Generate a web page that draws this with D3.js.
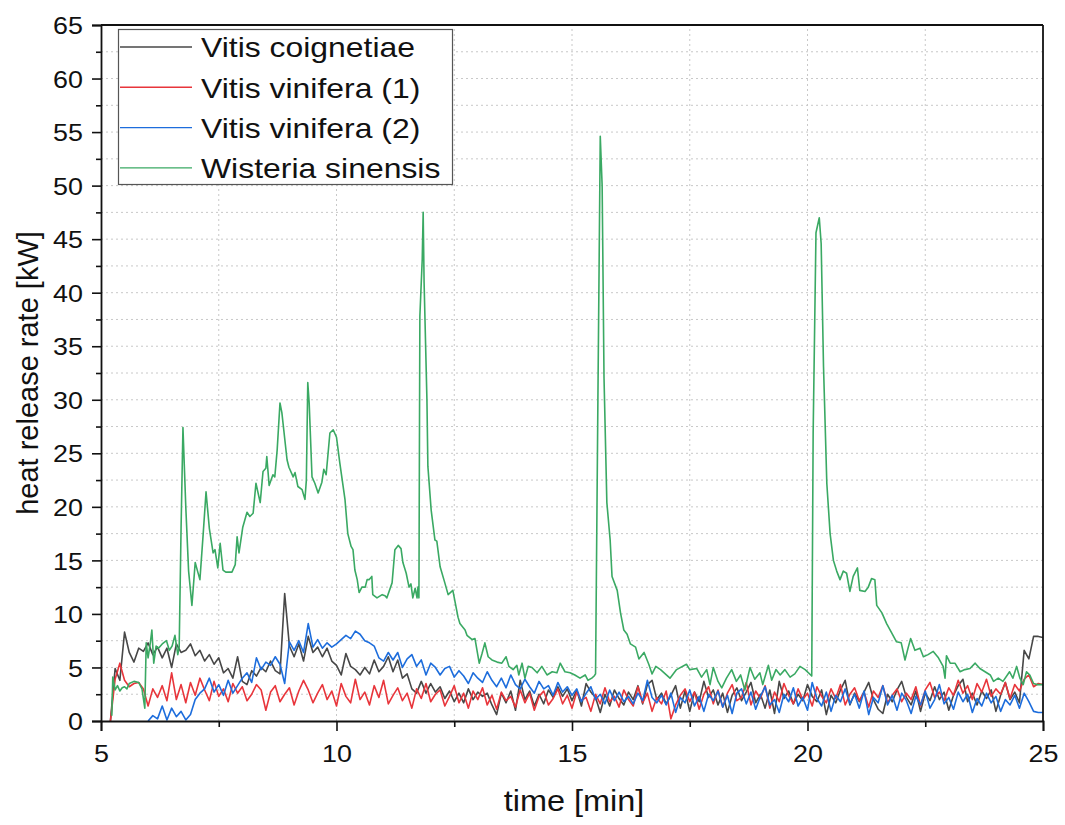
<!DOCTYPE html>
<html>
<head>
<meta charset="utf-8">
<script src="https://cdn.jsdelivr.net/npm/d3@7"></script>
<style>
  body { margin: 0; background: #fff; }
  text { font-family: "Liberation Sans", Arial, sans-serif; fill: #111; }
</style>
</head>
<body>
<div id="graf"></div>
<script>
// sample grid of the three noisy curves: one row per minute, 0.1 min step, starting at 5.0 min
const t0 = 5.0, dt = 0.1

const coignetiae = [
  null, null, 0.0, 4.9, 3.8, 8.3, 6.4, 5.5, 6.8, 6.5,
  7.3, 6.2, 6.9, 5.9, 6.8, 5.0, 7.2, 6.4, 6.6, 7.2,
  6.1, 6.6, 5.6, 6.2, 5.3, 5.9, 4.5, 4.9, 4.0, 6.0,
  3.7, 3.4, 4.7, 4.2, 5.0, 4.6, 5.6, 4.7, 4.4, 11.9,
  7.0, 6.0, 7.2, 5.6, 7.9, 6.4, 6.9, 6.0, 6.8, 5.6,
  5.2, 4.3, 6.3, 5.1, 4.8, 4.3, 5.0, 4.4, 5.7, 4.6,
  5.1, 6.0, 4.6, 5.7, 4.0, 4.4, 3.0, 2.6, 3.7, 2.6,
  3.5, 2.7, 3.2, 2.1, 2.8, 1.8, 2.6, 1.7, 3.0, 2.0,
  2.7, 2.3, 2.6, 1.5, 0.6, 2.6, 1.7, 2.8, 1.0, 3.8,
  2.0, 2.8, 1.4, 2.5, 1.6, 2.9, 2.2, 3.2, 2.3, 3.0,
  1.9, 2.9, 1.4, 3.5, 2.7, 2.2, 0.8, 2.5, 1.4, 2.9,
  2.1, 1.5, 2.7, 2.0, 3.3, 1.6, 3.4, 3.8, 2.0, 2.6,
  1.6, 2.4, 3.3, 1.2, 2.8, 0.9, 2.7, 1.8, 3.7, 2.2,
  2.9, 1.5, 2.6, 0.8, 2.4, 3.1, 1.9, 2.7, 3.6, 1.7,
  2.5, 1.2, 2.9, 0.7, 3.7, 2.1, 2.8, 1.6, 2.5, 1.9,
  3.4, 2.3, 1.8, 2.9, 0.6, 2.4, 1.7, 2.9, 3.8, 1.5,
  2.6, 1.8, 2.7, 3.6, 2.0, 1.1, 0.7, 2.5, 1.8, 2.9,
  3.7, 2.2, 1.5, 2.8, 0.9, 2.6, 1.9, 3.2, 2.0, 2.7,
  1.0, 2.4, 3.3, 3.9, 1.8, 2.6, 1.5, 2.8, 2.1, 2.9,
  0.9, 2.4, 3.6, 2.0, 2.7, 1.7, 6.6, 5.8, 7.9, 7.9,
  7.8
]

const vinifera1 = [
  null, null, 0.0, 3.9, 5.4, 3.8, 3.2, 3.5, 3.6, 3.0,
  1.4, 3.0, 2.2, 3.3, 1.9, 4.5, 2.0, 3.4, 1.7, 3.6,
  2.4, 4.0, 2.9, 1.9, 3.7, 2.3, 3.0, 1.8, 3.5, 2.6,
  3.2, 1.9, 2.5, 3.4, 2.9, 1.0, 2.7, 3.3, 1.8, 2.5,
  3.1, 1.5, 2.8, 3.8, 2.9, 1.7, 2.6, 3.4, 2.0, 2.8,
  1.4, 3.5, 2.3, 1.7, 3.9, 2.0, 2.7, 1.5, 3.3, 2.2,
  3.8, 1.6, 2.4, 3.1, 1.9, 2.6, 1.2, 3.0, 2.1, 3.5,
  1.8, 2.5, 2.9, 1.4, 2.3, 3.3, 1.7, 2.6, 1.2, 2.8,
  2.0, 3.1, 1.5, 2.4, 1.1, 2.7, 1.9, 2.3, 1.3, 2.9,
  1.7, 2.6, 1.0, 2.3, 2.8, 1.5, 2.1, 3.0, 1.6, 2.4,
  1.2, 2.7, 1.9, 2.2, 0.9, 2.5, 1.6, 3.1, 1.8, 2.3,
  1.3, 2.9, 2.0, 1.4, 3.2, 1.7, 2.6, 0.9, 2.2, 1.6,
  2.8, 0.2, 1.5, 2.4, 3.0, 1.8, 2.7, 1.1, 2.5, 3.2,
  1.6, 2.9, 1.3, 2.6, 3.4, 1.9, 2.2, 3.6, 1.5, 2.8,
  2.1, 3.3, 1.2, 2.7, 1.8, 3.5, 2.4, 1.6, 3.0, 2.0,
  2.6, 1.4, 3.2, 2.3, 1.7, 3.0, 2.1, 3.4, 1.5, 2.5,
  3.1, 1.9, 2.7, 1.3, 2.8, 2.2, 3.3, 1.7, 2.4, 3.0,
  1.8, 2.6, 2.0, 3.2, 1.4, 2.9, 3.6, 2.2, 2.7, 1.9,
  3.1, 2.4, 3.8, 2.6, 3.3, 2.0, 3.5, 2.7, 3.9, 2.3,
  3.0, 2.5, 3.6, 2.1, 3.4, 2.8, 3.9, 4.3, 3.2, 3.5,
  3.4
]

const vinifera2 = [
  null, null, null, null, null, null, null, null, null, null,
  0.0, 0.5, 0.2, 1.4, 0.1, 1.2, 0.4, 0.9, 0.1, 0.6,
  2.0, 2.6, 3.0, 4.0, 2.7, 3.4, 2.4, 3.8, 2.6, 3.3,
  4.0, 4.5, 3.6, 5.9, 4.8, 5.5, 5.2, 6.0, 5.3, 3.5,
  7.4, 6.6, 7.5, 6.4, 9.1, 6.9, 7.6, 6.8, 7.3, 6.9,
  7.2, 7.6, 8.0, 7.7, 8.4, 8.1, 7.5, 7.3, 7.0, 5.9,
  5.6, 6.4, 5.7, 6.4, 5.0, 5.8, 6.2, 5.1, 5.7, 4.3,
  5.4, 5.0, 4.3, 4.9, 5.1, 4.1, 4.7, 4.2, 3.5, 4.5,
  4.0, 3.6, 4.6, 3.8, 3.2, 4.0, 3.1, 4.3, 3.4, 3.0,
  3.9, 3.2, 2.6, 3.7, 3.0, 3.3, 2.4, 3.6, 2.7, 3.2,
  2.4, 3.0, 1.8, 2.6, 3.2, 2.0, 2.5, 1.6, 2.9, 1.9,
  2.7, 1.8, 2.3, 1.6, 2.6, 1.9, 3.8, 2.2, 1.7, 2.4,
  1.5, 2.6, 0.8, 2.2, 1.7, 2.9, 1.4, 2.3, 0.9, 2.5,
  1.9, 2.8, 1.3, 2.4, 0.7, 2.6, 3.0, 1.6, 2.7, 1.1,
  2.3, 3.2, 1.5, 2.0, 0.8, 2.5, 1.8, 3.1, 1.4, 2.2,
  1.0, 3.6, 2.1, 1.4, 2.7, 0.9, 2.4, 1.8, 3.0, 1.6,
  2.5, 1.2, 2.8, 0.6, 2.2, 1.7, 3.3, 1.5, 2.4, 1.0,
  2.6, 1.9, 0.7, 2.3, 1.5, 2.8, 1.2, 2.0, 3.4, 1.6,
  2.2, 1.1, 2.7, 1.8, 2.5, 0.8, 2.1, 1.4, 2.6, 1.7,
  2.3, 0.9, 2.0, 1.5, 2.4, 1.2, 2.6, 1.8, 0.9, 0.8,
  0.8
]

// Wisteria sinensis, read point by point (time in min, HRR in kW)
const wisteriaTime = [
  5.23, 5.25, 5.3, 5.35, 5.4, 5.45, 5.5, 5.55, 5.6, 5.7, 5.8, 5.87, 5.93, 5.96, 6.0, 6.05, 6.08, 6.12, 6.17, 6.22,
  6.3, 6.39, 6.45, 6.51, 6.57, 6.63, 6.66, 6.7, 6.74, 6.8, 6.86, 6.93, 7.0, 7.05, 7.1, 7.17, 7.23, 7.3, 7.38, 7.42,
  7.48, 7.53, 7.59, 7.65, 7.78, 7.85, 7.89, 7.93, 8.01, 8.1, 8.16, 8.23, 8.29, 8.38, 8.44, 8.5, 8.52, 8.57, 8.65, 8.69,
  8.74, 8.8, 8.84, 8.95, 8.99, 9.08, 9.12, 9.18, 9.27, 9.33, 9.36, 9.39, 9.42, 9.48, 9.54, 9.61, 9.69, 9.73, 9.78, 9.86,
  9.93, 10.0, 10.07, 10.18, 10.24, 10.31, 10.35, 10.39, 10.44, 10.48, 10.54, 10.61, 10.65, 10.69, 10.75, 10.77, 10.86, 10.97, 11.03, 11.07,
  11.18, 11.24, 11.31, 11.37, 11.41, 11.48, 11.54, 11.58, 11.62, 11.67, 11.71, 11.73, 11.75, 11.77, 11.82, 11.84, 11.86, 11.92, 11.94, 12.01,
  12.09, 12.13, 12.2, 12.3, 12.37, 12.47, 12.58, 12.62, 12.73, 12.77, 12.88, 12.94, 13.03, 13.09, 13.15, 13.22, 13.3, 13.41, 13.51, 13.6,
  13.66, 13.75, 13.83, 13.87, 13.94, 14.0, 14.07, 14.15, 14.26, 14.36, 14.47, 14.58, 14.68, 14.75, 14.85, 14.96, 15.06, 15.17, 15.28, 15.34,
  15.42, 15.47, 15.5, 15.55, 15.6, 15.64, 15.68, 15.74, 15.81, 15.85, 15.96, 16.03, 16.1, 16.17, 16.24, 16.35, 16.42, 16.53, 16.63, 16.7,
  16.78, 16.88, 17.08, 17.22, 17.43, 17.5, 17.65, 17.75, 17.86, 17.93, 18.0, 18.1, 18.18, 18.28, 18.39, 18.49, 18.58, 18.67, 18.78, 18.88,
  18.99, 19.05, 19.17, 19.24, 19.33, 19.42, 19.52, 19.63, 19.73, 19.84, 19.95, 20.09, 20.12, 20.18, 20.25, 20.29, 20.34, 20.41, 20.48, 20.55,
  20.62, 20.69, 20.76, 20.83, 20.9, 20.97, 21.06, 21.11, 21.22, 21.29, 21.36, 21.43, 21.47, 21.58, 21.68, 21.79, 21.89, 21.99, 22.07, 22.14,
  22.19, 22.28, 22.39, 22.46, 22.56, 22.67, 22.78, 22.88, 22.92, 22.95, 23.03, 23.13, 23.24, 23.34, 23.45, 23.56, 23.66, 23.77, 23.88, 23.95,
  24.05, 24.15, 24.29, 24.36, 24.44, 24.51, 24.58, 24.65, 24.72, 24.8, 24.87, 25.0
]
const wisteriaHRR = [
  0.5, 4.1, 2.9, 3.3, 2.8, 3.1, 3.2, 3.0, 3.5, 3.7, 3.6, 3.0, 1.2, 7.3, 5.9, 7.4, 8.5, 5.4, 7.0, 6.8,
  7.2, 7.5, 6.6, 7.0, 8.0, 6.2, 6.9, 18.0, 27.4, 20.0, 14.0, 10.8, 14.8, 14.0, 13.2, 17.5, 21.4, 18.0, 15.7, 16.0,
  14.3, 16.6, 14.1, 13.9, 13.9, 14.6, 17.2, 15.7, 18.1, 19.5, 19.1, 19.4, 22.2, 20.4, 23.3, 23.6, 24.7, 22.0, 23.0, 22.8,
  25.3, 29.7, 28.8, 24.4, 23.7, 22.8, 23.2, 21.9, 21.6, 20.7, 22.5, 31.6, 29.7, 22.8, 22.2, 21.3, 22.3, 23.5, 23.0, 26.9,
  27.2, 26.5, 24.1, 20.7, 17.5, 16.3, 16.0, 14.1, 13.2, 12.0, 12.5, 12.5, 13.2, 13.2, 13.5, 11.8, 11.5, 11.8, 11.7, 11.5,
  12.9, 16.0, 16.4, 16.1, 14.8, 13.8, 12.5, 12.8, 11.5, 12.4, 11.5, 12.5, 11.5, 37.8, 43.1, 47.5, 40.9, 30.0, 23.8, 19.7,
  16.9, 16.8, 14.4, 12.9, 11.8, 12.2, 9.7, 9.1, 8.5, 8.0, 7.6, 7.7, 5.4, 6.3, 7.3, 6.0, 5.7, 5.5, 5.4, 6.0,
  5.1, 4.8, 5.2, 4.3, 5.4, 4.0, 5.1, 5.0, 4.5, 5.1, 4.3, 4.6, 4.5, 5.4, 4.6, 4.5, 4.3, 4.0, 4.3, 3.8,
  4.0, 4.2, 4.4, 30.0, 54.6, 50.0, 32.0, 20.4, 16.9, 13.5, 12.2, 10.1, 8.5, 8.1, 7.2, 6.9, 5.8, 6.4, 5.3, 4.4,
  5.1, 4.8, 4.0, 4.8, 5.3, 4.8, 4.9, 4.1, 4.8, 3.4, 5.0, 3.7, 3.1, 4.0, 4.8, 3.7, 4.3, 2.9, 5.0, 3.9,
  4.5, 3.4, 5.2, 3.8, 4.8, 4.3, 4.8, 4.1, 4.4, 5.1, 4.8, 4.2, 26.9, 45.6, 47.0, 44.6, 33.1, 22.2, 17.5, 15.0,
  14.0, 13.2, 14.0, 13.8, 12.1, 13.5, 14.3, 12.2, 12.1, 12.5, 13.3, 13.2, 10.8, 10.1, 9.1, 8.2, 7.4, 7.3, 5.7, 6.9,
  7.7, 6.6, 6.8, 6.0, 6.2, 6.5, 5.9, 5.1, 4.0, 6.1, 5.4, 5.4, 4.6, 4.8, 4.9, 5.4, 4.9, 4.6, 4.3, 3.7,
  4.0, 3.7, 4.6, 4.0, 5.1, 4.0, 3.4, 4.6, 4.3, 3.5, 3.4, 3.4
]

const seriesNames = ["Vitis coignetiae", "Vitis vinifera (1)", "Vitis vinifera (2)", "Wisteria sinensis"]
const seriesColors = ["#474747", "#e8353b", "#1d6ddc", "#3aa963"]
const yTicks = d3.range(0, 66, 5)
const xTicks = [5, 10, 15, 20, 25]

function gridSeries(values){
  return values.map((v, i) => ({ t: t0 + i * dt, v: v }))
}

const series = [
  gridSeries(coignetiae),
  gridSeries(vinifera1),
  gridSeries(vinifera2),
  wisteriaTime.map((t, i) => ({ t: t, v: wisteriaHRR[i] }))
]

const W = 1065, H = 825
const x = d3.scaleLinear().domain([5, 25]).range([101, 1043])
const y = d3.scaleLinear().domain([0, 65]).range([721, 25])
const stretch = 1.12   // the original figure is a bit wider than tall in its text

const svg = d3.select('#graf')
  .append('svg')
  .attr('width', W)
  .attr('height', H)

// dotted grid every 2.5
const grid = svg.append('g')
grid.selectAll('line.gy')
  .data(d3.range(2.5, 65, 2.5))
  .enter().append('line')
  .attr('x1', x(5)).attr('x2', x(25))
  .attr('y1', d => y(d)).attr('y2', d => y(d))
  .attr('stroke', '#c8c8c8').attr('stroke-width', 1)
  .attr('stroke-dasharray', '2,3')
grid.selectAll('line.gx')
  .data(d3.range(7.5, 25, 2.5))
  .enter().append('line')
  .attr('y1', y(0)).attr('y2', y(65))
  .attr('x1', d => x(d)).attr('x2', d => x(d))
  .attr('stroke', '#c8c8c8').attr('stroke-width', 1)
  .attr('stroke-dasharray', '2,3')

// curves
svg.append('clipPath').attr('id', 'clip')
  .append('rect')
  .attr('x', x(5)).attr('y', y(65))
  .attr('width', x(25) - x(5)).attr('height', y(0) - y(65))

const line = d3.line()
  .defined(d => d.v !== null)
  .x(d => x(d.t))
  .y(d => y(d.v))

svg.append('g').attr('clip-path', 'url(#clip)')
  .selectAll('path')
  .data(series)
  .enter().append('path')
  .attr('d', line)
  .attr('fill', 'none')
  .attr('stroke', (d, i) => seriesColors[i])
  .attr('stroke-width', 1.6)
  .attr('stroke-linejoin', 'round')

// frame top / right
svg.append('line')
  .attr('x1', x(5)).attr('x2', x(25)).attr('y1', y(65)).attr('y2', y(65))
  .attr('stroke', '#111').attr('stroke-width', 1.8)
svg.append('line')
  .attr('x1', x(25)).attr('x2', x(25)).attr('y1', y(0)).attr('y2', y(65))
  .attr('stroke', '#111').attr('stroke-width', 1.8)

// axes
const yAxis = svg.append('g')
  .attr('transform', 'translate(' + x(5) + ',0)')
  .call(d3.axisLeft(y).tickValues(yTicks).tickSize(9).tickPadding(7).tickFormat(d3.format('d')))
svg.append('g')
  .attr('transform', 'translate(' + x(5) + ',0)')
  .call(d3.axisLeft(y).tickValues(d3.range(2.5, 65, 5)).tickSize(5).tickFormat(''))
  .call(g => g.select('.domain').remove())

const xAxis = svg.append('g')
  .attr('transform', 'translate(0,' + y(0) + ')')
  .call(d3.axisBottom(x).tickValues(xTicks).tickSize(10).tickPadding(14).tickFormat(d3.format('d')))
svg.append('g')
  .attr('transform', 'translate(0,' + y(0) + ')')
  .call(d3.axisBottom(x).tickValues(d3.range(7.5, 25, 5)).tickSize(6).tickFormat(''))
  .call(g => g.select('.domain').remove())

svg.selectAll('.domain').attr('stroke', '#111').attr('stroke-width', 1.8)
svg.selectAll('.tick line').attr('stroke', '#111').attr('stroke-width', 1.6)

yAxis.selectAll('.tick text')
  .attr('font-size', 24)
  .attr('dy', '0.36em')
  .attr('x', 0)
  .attr('transform', 'translate(-18,0) scale(' + stretch + ',1)')
xAxis.selectAll('.tick text')
  .attr('font-size', 24)
  .attr('transform', 'scale(' + stretch + ',1)')

// axis titles
svg.append('text')
  .attr('transform', 'translate(' + (x(15) + 2) + ',811) scale(' + stretch + ',1)')
  .attr('text-anchor', 'middle')
  .attr('font-size', 29)
  .text('time [min]')
svg.append('text')
  .attr('transform', 'translate(38,' + y(32.5) + ') rotate(-90)')
  .attr('text-anchor', 'middle')
  .attr('font-size', 29)
  .text('heat release rate [kW]')

// legend
const legend = svg.append('g')
legend.append('rect')
  .attr('x', 118.5).attr('y', 29.5)
  .attr('width', 334).attr('height', 155)
  .attr('fill', '#fff')
  .attr('stroke', '#555').attr('stroke-width', 1.2)

const item = legend.selectAll('g.item')
  .data(seriesNames)
  .enter().append('g')
  .attr('transform', (d, i) => 'translate(0,' + (47 + i * 40.3) + ')')
item.append('line')
  .attr('x1', 120).attr('x2', 192)
  .attr('stroke', (d, i) => seriesColors[i])
  .attr('stroke-width', 1.4)
item.append('text')
  .attr('transform', 'translate(201,0) scale(' + stretch + ',1)')
  .attr('dy', '0.36em')
  .attr('font-size', 28.5)
  .text(d => d)
</script>
</body>
</html>
